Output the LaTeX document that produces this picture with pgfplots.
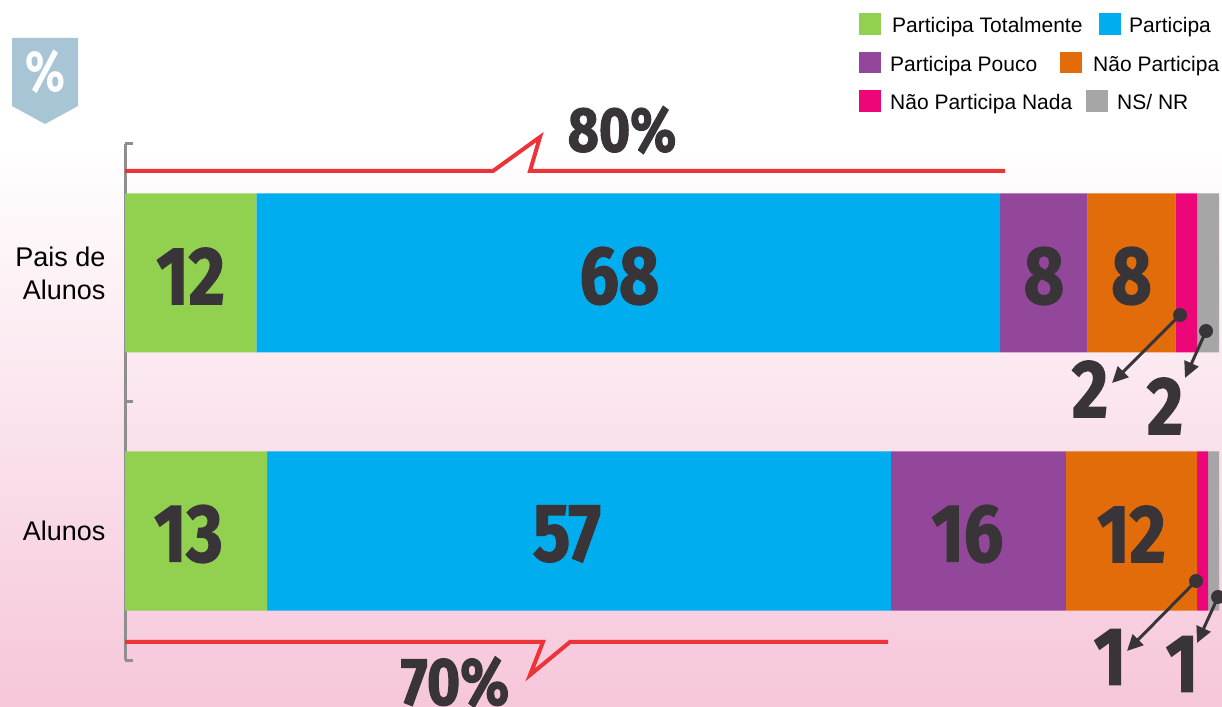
\documentclass[border=0pt]{standalone}
\usepackage{pgfplots}
\pgfplotsset{compat=1.18}
\usepackage{graphicx}
\usepackage{fontspec}
\setmainfont{Liberation Sans}
\newfontfamily\numfont[FakeStretch=0.85, BoldFeatures={FakeBold=1.6}]{Fira Sans}
\newfontfamily\pctfont{Fira Sans}
\usetikzlibrary{arrows.meta}
\definecolor{cgreen}{HTML}{92D050}
\definecolor{cblue}{HTML}{00AEEF}
\definecolor{cpurple}{HTML}{93479B}
\definecolor{corange}{HTML}{E36C0A}
\definecolor{cpink}{HTML}{EC0677}
\definecolor{cgray}{HTML}{A6A6A6}
\definecolor{dtext}{HTML}{383438}
\definecolor{cred}{HTML}{EE3338}
\definecolor{axgray}{HTML}{8E8E8E}
\definecolor{bgpink}{HTML}{F6C6DA}
\definecolor{badge}{HTML}{A7C5D4}
\newcommand{\bignum}[1]{{\numfont\bfseries\fontsize{82}{82}\selectfont #1}}
\tikzset{barlbl/.style={text=dtext, inner sep=0pt, yshift=-3pt}}
\begin{document}
\begin{tikzpicture}
\useasboundingbox (0,0) rectangle (1222pt,706pt);
\clip (0,0) rectangle (1222pt,706pt);
\fill[white] (0,0) rectangle (1222pt,706pt);
\shade[top color=white, bottom color=bgpink] (0,0) rectangle (1222pt,560pt);
\begin{axis}[
  at={(125pt,46pt)}, anchor=south west,
  scale only axis, width=1094pt, height=516pt,
  xbar stacked, bar width=159pt,
  xmin=0, xmax=100, ymin=-0.5, ymax=1.5,
  axis x line=none,
  axis y line*=left,
  axis line style={draw=axgray, line width=3pt},
  ytick={-0.5,0.5,1.5}, yticklabels={},
  tick align=inside, major tick length=8pt,
  y tick style={draw=axgray, line width=3pt},
  extra y ticks={0,1},
  extra y tick labels={Alunos,{Pais de\\Alunos}},
  extra y tick style={major tick length=0pt},
  yticklabel style={font=\fontsize{27}{33}\selectfont, align=right, xshift=-16pt, text=black},
  clip=false,
]
\addplot[fill=cgreen, draw=none] coordinates {(13,0) (12,1)};
\addplot[fill=cblue, draw=none] coordinates {(57,0) (68,1)};
\addplot[fill=cpurple, draw=none] coordinates {(16,0) (8,1)};
\addplot[fill=corange, draw=none] coordinates {(12,0) (8,1)};
\addplot[fill=cpink, draw=none] coordinates {(1,0) (2,1)};
\addplot[fill=cgray, draw=none] coordinates {(1,0) (2,1)};
\coordinate (p1) at (axis cs:6,1);
\coordinate (p2) at (axis cs:45.2,1);
\coordinate (p3) at (axis cs:84,1);
\coordinate (p4) at (axis cs:92,1);
\coordinate (a1) at (axis cs:5.8,0);
\coordinate (a2) at (axis cs:40.4,0);
\coordinate (a3) at (axis cs:77,0);
\coordinate (a4) at (axis cs:92,0);
\end{axis}
\node[barlbl] at (p1) {\bignum{12}};
\node[barlbl] at (p2) {\bignum{68}};
\node[barlbl] at (p3) {\bignum{8}};
\node[barlbl] at (p4) {\bignum{8}};
\node[barlbl] at (a1) {\bignum{13}};
\node[barlbl] at (a2) {\bignum{57}};
\node[barlbl] at (a3) {\bignum{16}};
\node[barlbl] at (a4) {\bignum{12}};
\begin{scope}[x=1pt,y=-1pt,yshift=706pt]
% badge
\fill[badge] (12,38) -- (78,38) -- (78,106) -- (45,124) -- (12,106) -- cycle;
\node[text=white, inner sep=0pt] at (45,72) {\scalebox{0.8}[1]{\pctfont\bfseries\fontsize{58}{58}\selectfont\%}};
% red brackets
\draw[cred, line width=4pt, line join=miter] (125,171) -- (493,171) -- (540,137) -- (530,171) -- (1005,171);
\draw[cred, line width=4pt, line join=miter] (125,642) -- (543,642) -- (530,675) -- (570,642) -- (888,642);
\node[text=dtext, inner sep=0pt] at (622,130) {\numfont\bfseries\fontsize{63}{63}\selectfont 80\%};
\node[text=dtext, inner sep=0pt] at (455,682) {\numfont\bfseries\fontsize{67}{67}\selectfont 70\%};
% small value arrows
\draw[dtext, line width=3pt, -{Triangle[length=16pt,width=15pt]}] (1180,315) -- (1112,383);
\fill[dtext] (1180,315) circle (7pt);
\draw[dtext, line width=3pt, -{Triangle[length=16pt,width=15pt]}] (1206,331) -- (1185,378);
\fill[dtext] (1206,331) circle (7pt);
\draw[dtext, line width=3pt, -{Triangle[length=16pt,width=15pt]}] (1196,581) -- (1127,651);
\fill[dtext] (1196,581) circle (7pt);
\draw[dtext, line width=3pt, -{Triangle[length=16pt,width=15pt]}] (1218,597) -- (1197,643);
\fill[dtext] (1218,597) circle (7pt);
\node[text=dtext, inner sep=0pt] at (1090,389) {\bignum{2}};
\node[text=dtext, inner sep=0pt] at (1165,406) {\bignum{2}};
\node[text=dtext, inner sep=0pt] at (1110,657) {\bignum{1}};
\node[text=dtext, inner sep=0pt] at (1182,664) {\bignum{1}};
% legend
\begin{scope}[every node/.style={anchor=base west, inner sep=0pt, font=\fontsize{21}{21}\selectfont, text=black}]
\fill[cgreen] (859,13) rectangle (881,35);
\node at (892,33) {Participa Totalmente};
\fill[cblue] (1099,13) rectangle (1121,35);
\node at (1129,33) {Participa};
\fill[cpurple] (859,52) rectangle (881,73);
\node at (890,72) {Participa Pouco};
\fill[corange] (1060,52) rectangle (1082,73);
\node at (1093,72) {Não Participa};
\fill[cpink] (859,90) rectangle (881,112);
\node at (890,110) {Não Participa Nada};
\fill[cgray] (1086,90) rectangle (1108,112);
\node at (1117,110) {NS/ NR};
\end{scope}
\end{scope}
\end{tikzpicture}
\end{document}
